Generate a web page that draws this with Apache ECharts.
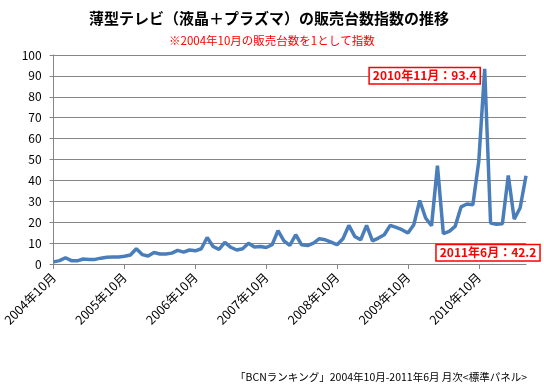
<!DOCTYPE html>
<html>
<head>
<meta charset="utf-8">
<script src="https://cdn.jsdelivr.net/npm/echarts@6/dist/echarts.min.js"></script>
<style>
html,body{margin:0;padding:0;background:#fff;}
#chart{width:544px;height:387px;}
</style>
</head>
<body>
<div id="chart"></div>
<script>
// Monthly categories 2004-10 .. 2011-06
var startYear = 2004, startMonth = 10, monthCount = 81;
var categories = [];
for (var k = 0; k < monthCount; k++) {
  var m = startMonth - 1 + k;
  categories.push((startYear + Math.floor(m / 12)) + '年' + (m % 12 + 1) + '月');
}
// Sales index (2004-10 = 1)
var indexValues = [
  1, 1.6, 3, 1.6, 1.5, 2.4, 2.2, 2.2, 2.8, 3.2, 3.4, 3.4,
  3.7, 4.3, 7.3, 4.5, 3.8, 5.5, 4.8, 4.8, 5.2, 6.5, 5.7, 6.7,
  6.3, 7.3, 12.7, 8.4, 7.0, 10.3, 8.0, 6.7, 7.3, 9.9, 8.1, 8.4,
  7.9, 9.2, 16, 11.1, 8.9, 14, 9.2, 8.8, 10, 12.1, 11.6, 10.5,
  9.2, 12.1, 18.5, 13.2, 11.6, 18.5, 11.1, 12.4, 14, 18.5, 17.5, 16.4,
  14.8, 18.8, 30.4, 22, 18.3, 47, 14.5, 15.6, 18, 27.3, 28.7, 28.4,
  49, 93.4, 19.6, 19, 19.2, 42.4, 21.5, 26.8, 42.2
];
var yTicks = [0, 10, 20, 30, 40, 50, 60, 70, 80, 90, 100];
var annotations = [
  { name: '2010年11月', value: 93.4 },
  { name: '2011年6月', value: 42.2 }
];
var titleText = '薄型テレビ（液晶＋プラズマ）の販売台数指数の推移';
var subtitleText = '※2004年10月の販売台数を1として指数';
var sourceText = '「BCNランキング」2004年10月-2011年6月 月次<標準パネル>';

var font = '"Noto Sans CJK JP", "Noto Sans", sans-serif';
var chart = echarts.init(document.getElementById('chart'), null, { renderer: 'canvas' });
var annOffsets = [[-60, 7], [-38, 77]];
var option = {
  animation: false,
  backgroundColor: '#fff',
  textStyle: { fontFamily: font },
  title: [
    { text: titleText, left: 84, top: 6,
      textStyle: { fontSize: 15, fontWeight: 'bold', color: '#000', fontFamily: font } },
    { text: subtitleText, left: 164, top: 30,
      textStyle: { fontSize: 11.5, fontWeight: 'normal', color: '#ff0000', fontFamily: font } },
    { text: sourceText, right: 12, top: 367,
      textStyle: { fontSize: 10.5, fontWeight: 'normal', color: '#000', fontFamily: font } }
  ],
  grid: { left: 49, right: 18, top: 55, bottom: 123, containLabel: false },
  xAxis: {
    type: 'category',
    data: categories,
    boundaryGap: false,
    axisLine: { lineStyle: { color: '#868686', width: 1 } },
    axisTick: { show: true, interval: 11, length: 5, lineStyle: { color: '#868686' } },
    axisLabel: { interval: 11, rotate: 45, fontSize: 12.5, color: '#000', fontFamily: font, margin: 11 },
    splitLine: { show: false }
  },
  yAxis: {
    type: 'value',
    min: yTicks[0], max: yTicks[yTicks.length - 1], interval: 10,
    axisLine: { show: true, lineStyle: { color: '#868686' } },
    axisTick: { show: true, length: 4, lineStyle: { color: '#868686' } },
    axisLabel: { fontSize: 12, color: '#000', fontFamily: font, margin: 12 },
    splitLine: { lineStyle: { color: '#868686', width: 1 } }
  },
  series: [{
    type: 'line',
    data: indexValues,
    showSymbol: false,
    symbol: 'none',
    lineStyle: { color: '#4a7ebb', width: 3.5 },
    itemStyle: { color: '#4a7ebb' },
    markPoint: {
      symbol: 'circle', symbolSize: 0,
      data: annotations.map(function (a, i) {
        return {
          coord: [categories.indexOf(a.name), a.value],
          label: {
            show: true,
            formatter: a.name + '：' + a.value,
            offset: annOffsets[i],
            color: '#ff0000', fontWeight: 'bold', fontSize: 12, fontFamily: font,
            backgroundColor: '#fff', borderColor: '#ff0000', borderWidth: 1.5,
            padding: [2, 3, 1, 3]
          }
        };
      })
    }
  }]
};
chart.setOption(option);
</script>
</body>
</html>
